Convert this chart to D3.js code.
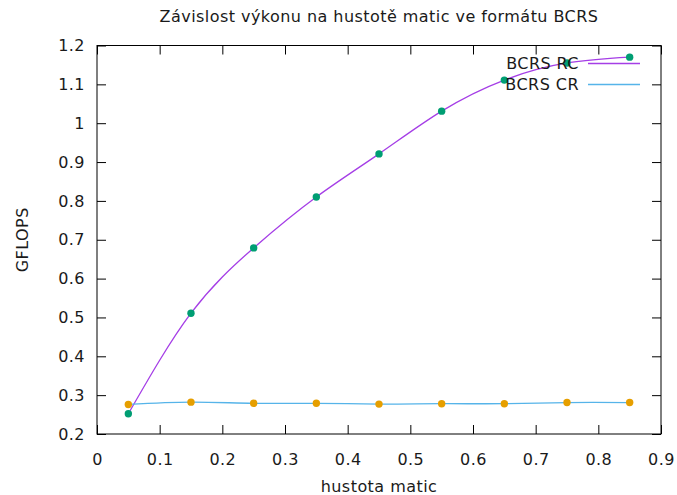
<!DOCTYPE html>
<html>
<head>
<meta charset="utf-8">
<script src="https://cdn.jsdelivr.net/npm/d3@7"></script>
<style>
body{margin:0;background:#fff;}
text{font-family:"DejaVu Sans",sans-serif;fill:#1a1a1a;letter-spacing:0.45px;}
.axis path{display:none;}
.axis line{stroke:#000;stroke-width:1;}
.axis text{font-size:16px;}
</style>
</head>
<body>
<svg id="graph"></svg>
<script>
var densities=[0.05,0.15,0.25,0.35,0.45,0.55,0.65,0.75,0.85]
var rcValues=[0.252,0.511,0.679,0.810,0.921,1.031,1.111,1.155,1.170]
var crValues=[0.276,0.282,0.279,0.279,0.277,0.278,0.278,0.281,0.281]
var xTicks=[0,0.1,0.2,0.3,0.4,0.5,0.6,0.7,0.8,0.9]
var yTicks=[0.2,0.3,0.4,0.5,0.6,0.7,0.8,0.9,1,1.1,1.2]
var seriesNames=["BCRS RC","BCRS CR"]

var screen={width:677,height:495}
var margins={left:97,right:16,top:45.5,bottom:61}
var graph={
    width:screen.width-margins.left-margins.right,
    height:screen.height-margins.top-margins.bottom
}

var svg=d3.select("#graph")
    .attr("width",screen.width)
    .attr("height",screen.height)

var target=svg.append("g")
    .attr("transform","translate("+margins.left+","+margins.top+")")

var xScale=d3.scaleLinear().domain([0,0.9]).range([0,graph.width])
var yScale=d3.scaleLinear().domain([0.2,1.2]).range([graph.height,0])

var fmt=function(d){return String(+d.toFixed(2))}

// axes, ticks pointing inward
target.append("g").classed("axis",true)
    .attr("transform","translate(0,"+graph.height+")")
    .call(d3.axisBottom(xScale).tickValues(xTicks).tickFormat(fmt).tickSize(-9).tickPadding(20))
target.append("g").classed("axis",true)
    .call(d3.axisTop(xScale).tickValues(xTicks).tickFormat("").tickSize(-9))
target.append("g").classed("axis",true)
    .call(d3.axisLeft(yScale).tickValues(yTicks).tickFormat(fmt).tickSize(-9).tickPadding(12))
target.append("g").classed("axis",true)
    .attr("transform","translate("+graph.width+",0)")
    .call(d3.axisRight(yScale).tickValues(yTicks).tickFormat("").tickSize(-9))

target.append("rect")
    .attr("width",graph.width)
    .attr("height",graph.height)
    .attr("fill","none")
    .attr("stroke","#000")
    .attr("stroke-width",1)

var series=[
    {name:seriesNames[0],values:rcValues,line:"#a53ee6",dot:"#009e73"},
    {name:seriesNames[1],values:crValues,line:"#56b4e9",dot:"#e69f00"}
]

var lineGenerator=d3.line()
    .x(function(d,i){return xScale(densities[i])})
    .y(function(d){return yScale(d)})
    .curve(d3.curveNatural)

series.forEach(function(s){
    target.append("path")
        .datum(s.values)
        .attr("d",lineGenerator)
        .attr("fill","none")
        .attr("stroke",s.line)
        .attr("stroke-width",1.3)
})

series.forEach(function(s){
    target.append("g")
        .selectAll("circle")
        .data(s.values)
        .enter()
        .append("circle")
        .attr("cx",function(d,i){return xScale(densities[i])})
        .attr("cy",function(d){return yScale(d)})
        .attr("r",3.7)
        .attr("fill",s.dot)
})

// legend
var legend=target.append("g")
series.forEach(function(s,i){
    var y=18+i*21
    legend.append("text")
        .text(s.name)
        .attr("x",482)
        .attr("y",y)
        .attr("dy","0.35em")
        .attr("text-anchor","end")
        .style("font-size","16px")
    legend.append("line")
        .attr("x1",491).attr("x2",543)
        .attr("y1",y).attr("y2",y)
        .attr("stroke",s.line)
        .attr("stroke-width",1.3)
})

// labels
var labels=svg.append("g")
labels.append("text")
    .text("Závislost výkonu na hustotě matic ve formátu BCRS")
    .attr("text-anchor","middle")
    .attr("x",margins.left+graph.width/2)
    .attr("y",22)
    .style("font-size","16px")
labels.append("text")
    .text("hustota matic")
    .attr("text-anchor","middle")
    .attr("x",margins.left+graph.width/2)
    .attr("y",492)
    .style("font-size","16px")
labels.append("text")
    .text("GFLOPS")
    .attr("text-anchor","middle")
    .attr("transform","translate(28,"+(margins.top+graph.height/2)+") rotate(-90)")
    .style("font-size","16px")
</script>
</body>
</html>
